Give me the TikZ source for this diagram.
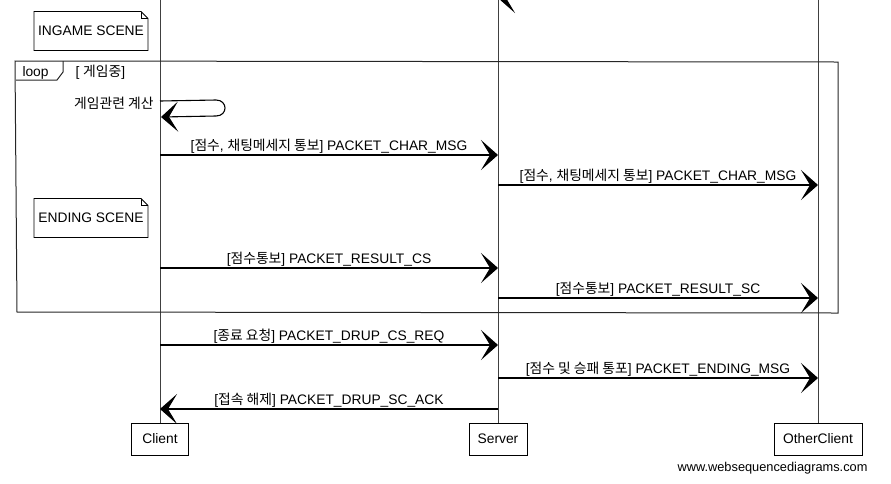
\documentclass[tikz,border=0pt]{standalone}
\usepackage{fontspec}
\setmainfont{Liberation Sans}
\newfontfamily\kr{Noto Sans CJK KR}
\usetikzlibrary{arrows.meta}
\begin{document}
\begin{tikzpicture}[x=1pt,y=-1pt,
  font=\fontsize{13.8}{16}\selectfont,
  line width=1pt,
  msg/.style={-{Stealth[length=17pt,width=30pt,inset=9pt]}, line width=1.1pt},
  lbl/.style={inner sep=0pt, anchor=base, yshift=5pt},
  lifeline/.style={line width=0.9pt, draw=black!75},
  actor/.style={draw, line width=0.9pt, minimum height=32pt, inner sep=2pt},
  notebox/.style={minimum width=113pt, minimum height=38pt, inner sep=0pt},
  frame/.style={line width=1pt, draw=black!85}]
\clip (0,0) rectangle (891,483);
\useasboundingbox (0,0) rectangle (891,483);

% participants
\node[actor, minimum width=57pt] (client) at (160,439) {Client};
\node[actor, minimum width=58pt] (server) at (498,439) {Server};
\node[actor, minimum width=88pt] (other) at (818,439) {OtherClient};

% lifelines
\coordinate (clientTop) at (160,0);
\coordinate (serverTop) at (498,0);
\coordinate (otherTop) at (818,0);
\draw[lifeline] (clientTop) -- (client.north);
\draw[lifeline] (serverTop) -- (server.north);
\draw[lifeline] (otherTop) -- (other.north);

% partial arrow at top (clipped)
\coordinate (o0) at (818,-2);
\coordinate (s0) at (498,-2);
\draw[msg] (o0) -- (s0);

% notes
\newcommand{\drawnote}[1]{%
  \draw[line width=0.9pt] (#1.north west) -- ([xshift=-7pt]#1.north east)
    -- ([yshift=-7pt]#1.north east) -- (#1.south east) -- (#1.south west) -- cycle;
  \draw[line width=0.7pt] ([xshift=-7pt]#1.north east) -- ([xshift=-7pt,yshift=-7pt]#1.north east)
    -- ([yshift=-7pt]#1.north east);}
\node[notebox] (ingame) at (91,31) {INGAME SCENE};
\drawnote{ingame}
\node[notebox] (ending) at (91,218) {ENDING SCENE};
\drawnote{ending}

% loop frame
\coordinate (fa) at (15,61);
\coordinate (fb) at (838,62);
\coordinate (fc) at (838,313);
\coordinate (fd) at (17,312);
\draw[frame] (fa) -- (fb) -- (fc) -- (fd) -- cycle;
\coordinate (ta) at (63,61);
\coordinate (tb) at (63,72);
\coordinate (tc) at (57,80);
\coordinate (td) at (16,80);
\draw[frame] (ta) -- (tb) -- (tc) -- (td);
\node[anchor=base west, inner sep=0pt] (looplbl) at (22,76) {loop};
\node[anchor=base west, inner sep=0pt] (guard) at (75,76) {[ {\kr 게임중}]};

% self message
\coordinate (sa) at (160,101);
\coordinate (sb) at (161,117);
\draw[msg] (sa) -- (216,100) .. controls (228,100) and (228,116) .. (216,116) -- (sb);
\node[anchor=base east, inner sep=0pt] (selflbl) at (154,108) {\kr 게임관련 계산};

% messages
\coordinate (c1) at (160,155); \coordinate (s1) at (498,155);
\draw[msg] (c1) -- node[lbl] {[{\kr 점수}, {\kr 채팅메세지 통보}] PACKET\_CHAR\_MSG} (s1);

\coordinate (s2) at (498,185); \coordinate (o2) at (818,185);
\draw[msg] (s2) -- node[lbl] {[{\kr 점수}, {\kr 채팅메세지 통보}] PACKET\_CHAR\_MSG} (o2);

\coordinate (c3) at (160,268); \coordinate (s3) at (498,268);
\draw[msg] (c3) -- node[lbl] {[{\kr 점수통보}] PACKET\_RESULT\_CS} (s3);

\coordinate (s4) at (498,298); \coordinate (o4) at (818,298);
\draw[msg] (s4) -- node[lbl] {[{\kr 점수통보}] PACKET\_RESULT\_SC} (o4);

\coordinate (c5) at (160,345); \coordinate (s5) at (498,345);
\draw[msg] (c5) -- node[lbl] {[{\kr 종료 요청}] PACKET\_DRUP\_CS\_REQ} (s5);

\coordinate (s6) at (498,378); \coordinate (o6) at (818,378);
\draw[msg] (s6) -- node[lbl] {[{\kr 점수 및 승패 통포}] PACKET\_ENDING\_MSG} (o6);

\coordinate (s7) at (498,409); \coordinate (c7) at (160,409);
\draw[msg] (s7) -- node[lbl] {[{\kr 접속 해제}] PACKET\_DRUP\_SC\_ACK} (c7);

% footer
\node[anchor=base east, inner sep=0pt, font=\fontsize{12.8}{15}\selectfont] (footer) at (868,471) {www.websequencediagrams.com};
\end{tikzpicture}
\end{document}
